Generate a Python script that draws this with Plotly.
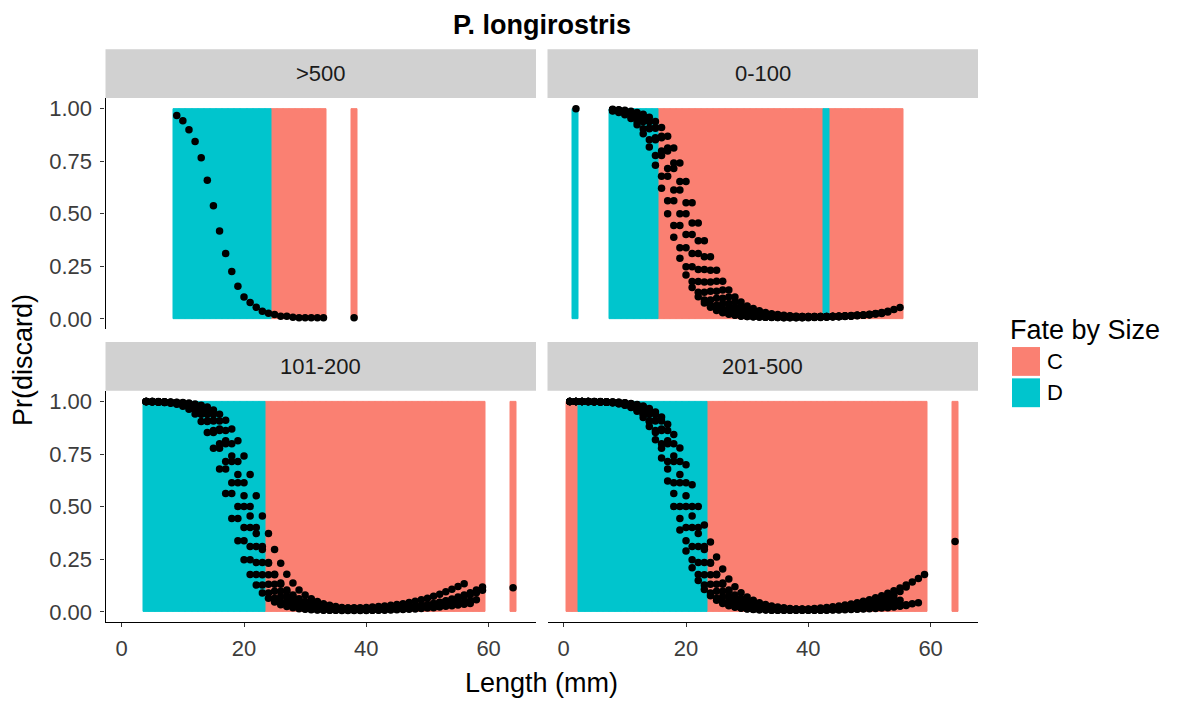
import plotly.graph_objects as go

# ---------------- data ----------------
FATE_COLORS = {"C": "#FA8072", "D": "#00C5CD"}
BAR_HEIGHT = 1

# Fate-by-size bars (length in mm) per panel
P500_C = [25, 26, 27, 28, 29, 30, 31, 32, 33, 38]
P500_D = [9, 10, 11, 12, 13, 14, 15, 16, 17, 18, 19, 20, 21, 22, 23, 24]
P0_100_C = [16, 17, 18, 19, 20, 21, 22, 23, 24, 25, 26, 27, 28, 29, 30, 31, 32, 33, 34, 35,
            36, 37, 38, 39, 40, 41, 42, 44, 45, 46, 47, 48, 49, 50, 51, 52, 53, 54, 55]
P0_100_D = [2, 8, 9, 10, 11, 12, 13, 14, 15, 43]
P101_200_C = [24, 25, 26, 27, 28, 29, 30, 31, 32, 33, 34, 35, 36, 37, 38, 39, 40, 41, 42, 43,
              44, 45, 46, 47, 48, 49, 50, 51, 52, 53, 54, 55, 56, 57, 58, 59, 64]
P101_200_D = [4, 5, 6, 7, 8, 9, 10, 11, 12, 13, 14, 15, 16, 17, 18, 19, 20, 21, 22, 23]
P201_500_C = [1, 2, 24, 25, 26, 27, 28, 29, 30, 31, 32, 33, 34, 35, 36, 37, 38, 39, 40, 41, 42,
              43, 44, 45, 46, 47, 48, 49, 50, 51, 52, 53, 54, 55, 56, 57, 58, 59, 64]
P201_500_D = [3, 4, 5, 6, 7, 8, 9, 10, 11, 12, 13, 14, 15, 16, 17, 18, 19, 20, 21, 22, 23]

# Pr(discard) curves: each list starts at the panel's start length, 1 mm steps
P500_start = 9
P500_curves = [
    [0.967, 0.943, 0.90, 0.844, 0.766, 0.659, 0.538, 0.418, 0.311, 0.226, 0.155, 0.104, 0.078,
     0.055, 0.036, 0.027, 0.021, 0.013, 0.013, 0.008, 0.006, 0.005, 0.005, 0.005, 0.005],
]
P500_extra_len = [38]
P500_extra_pr = [0.005]

P0_100_start = 8
P0_100_curves = [
    [0.989, 0.982, 0.971, 0.953, 0.924, 0.881, 0.818, 0.731, 0.622, 0.5, 0.389, 0.289, 0.209, 0.149,
     0.106, 0.076, 0.055, 0.040, 0.029, 0.022, 0.017, 0.013, 0.011, 0.010, 0.009,
     0.008, 0.008, 0.007, 0.007, 0.007, 0.007, 0.007, 0.008, 0.008, 0.009, 0.010, 0.011, 0.012],
    [0.991, 0.986, 0.977, 0.963, 0.94, 0.905, 0.852, 0.777, 0.679, 0.562, 0.444, 0.338, 0.248, 0.178,
     0.127, 0.090, 0.065, 0.047, 0.034, 0.025, 0.019, 0.015, 0.012, 0.010,
     0.009, 0.008, 0.007, 0.007, 0.006, 0.006, 0.006, 0.006, 0.006, 0.007, 0.007, 0.008, 0.009,
     0.010, 0.011, 0.013, 0.015, 0.017, 0.020],
    [0.995, 0.991, 0.986, 0.977, 0.963, 0.94, 0.905, 0.852, 0.777, 0.679, 0.562, 0.444, 0.338, 0.248,
     0.178, 0.127, 0.090, 0.065, 0.047, 0.034, 0.025, 0.019, 0.015, 0.012, 0.010,
     0.009, 0.008, 0.008, 0.007, 0.007, 0.007, 0.007, 0.008, 0.008, 0.009, 0.010, 0.011, 0.012,
     0.014, 0.016, 0.018],
    [0.993, 0.989, 0.983, 0.974, 0.960, 0.939, 0.907, 0.862, 0.799, 0.715, 0.613, 0.5, 0.401, 0.311,
     0.235, 0.176, 0.131, 0.098, 0.073, 0.055, 0.042, 0.033, 0.026, 0.021, 0.017, 0.014, 0.012, 0.011,
     0.010, 0.009, 0.009, 0.009, 0.009, 0.009, 0.010, 0.010, 0.011, 0.012, 0.013, 0.014, 0.016,
     0.018, 0.020, 0.023, 0.026],
    [0.995, 0.993, 0.989, 0.983, 0.974, 0.960, 0.939, 0.907, 0.862, 0.799, 0.715, 0.613, 0.5, 0.401,
     0.311, 0.235, 0.176, 0.131, 0.098, 0.073, 0.055, 0.042, 0.033, 0.026, 0.021, 0.017, 0.014, 0.012,
     0.011, 0.010, 0.010, 0.010, 0.010, 0.010, 0.011, 0.011, 0.012, 0.013, 0.014, 0.015, 0.017,
     0.019, 0.021, 0.024, 0.028, 0.033],
    [0.995, 0.992, 0.988, 0.982, 0.973, 0.959, 0.939, 0.910, 0.869, 0.813, 0.741, 0.653, 0.552, 0.456,
     0.372, 0.296, 0.231, 0.179, 0.137, 0.104, 0.080, 0.062, 0.049, 0.039, 0.031, 0.025, 0.021, 0.017,
     0.015, 0.013, 0.012, 0.011, 0.011, 0.011, 0.011, 0.012, 0.013, 0.014, 0.015],
    [0.997, 0.995, 0.992, 0.988, 0.982, 0.973, 0.959, 0.939, 0.910, 0.869, 0.813, 0.741, 0.653, 0.552,
     0.456, 0.372, 0.296, 0.231, 0.179, 0.137, 0.104, 0.080, 0.062, 0.049, 0.039, 0.031, 0.025, 0.021,
     0.017, 0.015, 0.013, 0.012, 0.011, 0.011, 0.011, 0.011, 0.012, 0.012, 0.013, 0.015, 0.017,
     0.019, 0.022, 0.026, 0.031, 0.037, 0.045, 0.054],
]
P0_100_extra_len = [2]
P0_100_extra_pr = [1.0]

P101_200_start = 4
P101_200_curves = [
    [0.999, 0.998, 0.997, 0.995, 0.991, 0.986, 0.977, 0.963, 0.94, 0.905, 0.852, 0.777, 0.679, 0.562,
     0.444, 0.338, 0.248, 0.178, 0.127, 0.090, 0.065, 0.047, 0.034, 0.025, 0.019, 0.015, 0.012, 0.010,
     0.009, 0.008, 0.007, 0.007, 0.006, 0.006, 0.006, 0.006, 0.006, 0.007, 0.007, 0.008, 0.009,
     0.010, 0.011, 0.012, 0.014, 0.016, 0.018, 0.020, 0.023, 0.026, 0.029, 0.032, 0.036, 0.040],
    [0.999, 0.999, 0.998, 0.997, 0.995, 0.991, 0.986, 0.977, 0.963, 0.94, 0.905, 0.852, 0.777, 0.679,
     0.562, 0.444, 0.338, 0.248, 0.178, 0.127, 0.090, 0.065, 0.047, 0.034, 0.025, 0.019, 0.015, 0.012,
     0.010, 0.009, 0.008, 0.008, 0.007, 0.007, 0.007, 0.007, 0.008, 0.008, 0.009, 0.010, 0.011,
     0.012, 0.014, 0.016, 0.018, 0.021, 0.024, 0.028, 0.032],
    [0.998, 0.997, 0.996, 0.995, 0.993, 0.989, 0.983, 0.974, 0.960, 0.939, 0.907, 0.862, 0.799, 0.715,
     0.613, 0.5, 0.401, 0.311, 0.235, 0.176, 0.131, 0.098, 0.073, 0.055, 0.042, 0.033, 0.026, 0.021,
     0.017, 0.014, 0.012, 0.011,
     0.010, 0.010, 0.010, 0.010, 0.010, 0.011, 0.012, 0.013, 0.015, 0.017, 0.019, 0.022, 0.025,
     0.029, 0.034, 0.040, 0.046, 0.053, 0.061, 0.070, 0.080, 0.091, 0.104, 0.118],
    [0.999, 0.998, 0.997, 0.996, 0.995, 0.993, 0.989, 0.983, 0.974, 0.960, 0.939, 0.907, 0.862, 0.799,
     0.715, 0.613, 0.5, 0.401, 0.311, 0.235, 0.176, 0.131, 0.098, 0.073, 0.055, 0.042, 0.034, 0.028,
     0.024, 0.021, 0.019, 0.018, 0.018,
     0.018, 0.019, 0.020, 0.021, 0.023, 0.025, 0.028, 0.031, 0.035, 0.039, 0.044, 0.050, 0.057,
     0.065, 0.074, 0.084, 0.095, 0.107, 0.120, 0.134],
    [0.999, 0.999, 0.998, 0.997, 0.995, 0.992, 0.988, 0.982, 0.973, 0.959, 0.939, 0.910, 0.869, 0.813,
     0.741, 0.653, 0.552, 0.456, 0.372, 0.296, 0.231, 0.179, 0.137, 0.104, 0.080, 0.062, 0.049, 0.039,
     0.031, 0.025, 0.021, 0.017, 0.015, 0.013,
     0.012, 0.011, 0.011, 0.011, 0.011, 0.012, 0.013, 0.014, 0.015, 0.017, 0.019, 0.021, 0.024,
     0.027, 0.030, 0.034, 0.038, 0.042, 0.047, 0.052, 0.058],
    [0.999, 0.999, 0.998, 0.997, 0.996, 0.995, 0.993, 0.989, 0.983, 0.974, 0.960, 0.939, 0.907, 0.862,
     0.799, 0.715, 0.613, 0.5, 0.401, 0.311, 0.235, 0.176, 0.131, 0.098, 0.073, 0.055, 0.042, 0.033,
     0.026, 0.021, 0.017, 0.014, 0.012, 0.011,
     0.010, 0.010, 0.010, 0.010, 0.011, 0.012, 0.013, 0.014, 0.016, 0.018, 0.020, 0.023, 0.026,
     0.030, 0.034, 0.039, 0.044],
    [1.0, 0.999, 0.999, 0.998, 0.997, 0.996, 0.995, 0.992, 0.988, 0.982, 0.973, 0.959, 0.939, 0.910,
     0.869, 0.813, 0.741, 0.653, 0.552, 0.456, 0.372, 0.296, 0.231, 0.179, 0.137, 0.104, 0.080, 0.062,
     0.049, 0.039, 0.031, 0.025, 0.021, 0.018, 0.016,
     0.015, 0.014, 0.014, 0.014, 0.015, 0.016, 0.018, 0.020, 0.023, 0.026, 0.030, 0.034, 0.039,
     0.044, 0.050, 0.057, 0.064, 0.072, 0.081, 0.091, 0.102],
]
P101_200_extra_len = [64]
P101_200_extra_pr = [0.115]

P201_500_start = 1
P201_500_curves = [
    [0.9998, 0.9997, 0.9994, 0.9991, 0.9985, 0.9975, 0.9959, 0.9933, 0.989, 0.982, 0.971, 0.953, 0.924,
     0.881, 0.818, 0.731, 0.622,
     0.5, 0.389, 0.289, 0.209, 0.149, 0.106, 0.076, 0.055, 0.040, 0.029, 0.022, 0.017, 0.013, 0.011, 0.010,
     0.009, 0.008, 0.008, 0.007, 0.007, 0.007, 0.007, 0.007, 0.007, 0.008, 0.008, 0.009, 0.009,
     0.010, 0.011, 0.012, 0.013, 0.015, 0.016, 0.018, 0.020, 0.023, 0.026, 0.030],
    [0.9998, 0.9997, 0.9996, 0.9993, 0.9989, 0.998, 0.9968, 0.995, 0.991, 0.986, 0.977, 0.963, 0.94,
     0.905, 0.852, 0.777, 0.679, 0.562,
     0.444, 0.338, 0.248, 0.178, 0.127, 0.090, 0.065, 0.047, 0.034, 0.025, 0.019, 0.015, 0.012, 0.010,
     0.009, 0.008, 0.008, 0.007, 0.007, 0.007, 0.007, 0.007, 0.008, 0.008, 0.009, 0.010, 0.011,
     0.012, 0.013, 0.014, 0.016, 0.018, 0.020, 0.022, 0.025, 0.028, 0.031, 0.034, 0.038, 0.043],
    [0.9995, 0.9993, 0.999, 0.9985, 0.998, 0.997, 0.9955, 0.993, 0.989, 0.983, 0.974, 0.960, 0.939,
     0.907, 0.862, 0.799, 0.715, 0.613,
     0.5, 0.401, 0.311, 0.235, 0.176, 0.131, 0.098, 0.073, 0.055, 0.042, 0.033, 0.026, 0.021, 0.017,
     0.014, 0.012, 0.011,
     0.011, 0.011, 0.012, 0.013, 0.014, 0.016, 0.018, 0.021, 0.024, 0.028, 0.032, 0.037, 0.043,
     0.050, 0.058, 0.067, 0.077, 0.088, 0.100, 0.113, 0.127, 0.142, 0.159, 0.178],
    [0.9996, 0.9995, 0.9993, 0.999, 0.9985, 0.998, 0.997, 0.9955, 0.993, 0.989, 0.983, 0.974, 0.960,
     0.939, 0.907, 0.862, 0.799, 0.715, 0.613,
     0.5, 0.401, 0.311, 0.235, 0.176, 0.131, 0.098, 0.073, 0.055, 0.042, 0.033, 0.026, 0.021, 0.017,
     0.014, 0.012, 0.011,
     0.010, 0.010, 0.011, 0.011, 0.012, 0.013, 0.015, 0.017, 0.020, 0.023, 0.027, 0.031, 0.036,
     0.042, 0.049, 0.057, 0.067, 0.079, 0.097, 0.118],
    [0.9997, 0.9996, 0.9994, 0.9991, 0.9985, 0.9977, 0.9965, 0.9947, 0.992, 0.988, 0.982, 0.973,
     0.959, 0.939, 0.910, 0.869, 0.813, 0.741, 0.653, 0.552,
     0.456, 0.372, 0.296, 0.231, 0.179, 0.137, 0.104, 0.080, 0.062, 0.049, 0.039, 0.031, 0.025,
     0.021, 0.017, 0.015, 0.013,
     0.012, 0.011, 0.011, 0.011, 0.012, 0.012, 0.013, 0.014, 0.016, 0.018, 0.020, 0.023, 0.026,
     0.030, 0.035, 0.041, 0.048, 0.055],
    [0.9997, 0.9996, 0.9995, 0.9993, 0.999, 0.9985, 0.998, 0.997, 0.9955, 0.993, 0.989, 0.983,
     0.974, 0.960, 0.939, 0.907, 0.862, 0.799, 0.715, 0.613,
     0.5, 0.401, 0.311, 0.235, 0.176, 0.131, 0.098, 0.073, 0.055, 0.042, 0.033, 0.026, 0.021,
     0.017, 0.014, 0.012, 0.011,
     0.010, 0.010, 0.010, 0.011, 0.012, 0.013, 0.015, 0.017, 0.019, 0.022, 0.025, 0.029, 0.033,
     0.038, 0.044, 0.051, 0.059],
    [0.9998, 0.9998, 0.9997, 0.9995, 0.9993, 0.999, 0.998, 0.997, 0.9958, 0.9936, 0.9902, 0.9852,
     0.9777, 0.9664, 0.9498, 0.9255, 0.8909, 0.8429, 0.779, 0.6985, 0.6035,
     0.5, 0.413, 0.332, 0.261, 0.203, 0.156, 0.119, 0.091, 0.070, 0.055, 0.043, 0.035, 0.028,
     0.023, 0.019, 0.016, 0.014, 0.012,
     0.011, 0.011, 0.011, 0.011, 0.012, 0.013, 0.014, 0.015, 0.017, 0.019, 0.021, 0.024, 0.027],
]
P201_500_extra_len = [64]
P201_500_extra_pr = [0.334]

X_TICKS = [0, 20, 40, 60]
Y_TICKS = [0, 0.25, 0.5, 0.75, 1.0]
Y_TICK_TEXT = ["0.00", "0.25", "0.50", "0.75", "1.00"]
FACET_LABELS = [">500", "0-100", "101-200", "201-500"]
LEGEND_LABELS = ["C", "D"]

# ---------------- layout geometry (pixels) ----------------
W, H = 1178, 704
PX_L = (105.5, 536.0)
PX_R = (547.5, 978.0)
PY_TOP = (96.7, 329.3)
PY_BOT = (391.1, 623.9)
STRIP_TOP = (47.5, 96.5)
STRIP_BOT = (342, 391.0)
XR = [-2.65, 67.75]
YR = [-0.05, 1.05]

def fx(px):
    return px / W

def fy(py):
    return 1 - py / H

FONT = "Liberation Sans, Arial, sans-serif"
TICK_FONT = dict(family=FONT, size=22, color="#3C3C3C")

panels = [
    (FACET_LABELS[0], "3", PX_L, PY_TOP, STRIP_TOP, P500_C, P500_D, P500_start, P500_curves,
     P500_extra_len, P500_extra_pr),
    (FACET_LABELS[1], "4", PX_R, PY_TOP, STRIP_TOP, P0_100_C, P0_100_D, P0_100_start, P0_100_curves,
     P0_100_extra_len, P0_100_extra_pr),
    (FACET_LABELS[2], "", PX_L, PY_BOT, STRIP_BOT, P101_200_C, P101_200_D, P101_200_start,
     P101_200_curves, P101_200_extra_len, P101_200_extra_pr),
    (FACET_LABELS[3], "2", PX_R, PY_BOT, STRIP_BOT, P201_500_C, P201_500_D, P201_500_start,
     P201_500_curves, P201_500_extra_len, P201_500_extra_pr),
]

fig = go.Figure()
shapes = []
annotations = []
layout_axes = {}

for label, sfx, xd, yd, strip, barsC, barsD, start, curves, exl, expr in panels:
    xa = "x" + sfx
    ya = "y" + sfx
    for fate, lens in (("C", barsC), ("D", barsD)):
        fig.add_trace(go.Bar(
            x=lens, y=[BAR_HEIGHT] * len(lens), width=1,
            marker=dict(color=FATE_COLORS[fate], line=dict(color=FATE_COLORS[fate], width=1)),
            xaxis=xa, yaxis=ya, showlegend=False, hoverinfo="skip"))
    for vals in curves:
        fig.add_trace(go.Scatter(
            x=list(range(start, start + len(vals))), y=vals, mode="markers",
            marker=dict(color="black", size=7.5), xaxis=xa, yaxis=ya, showlegend=False))
    fig.add_trace(go.Scatter(
        x=exl, y=expr, mode="markers", marker=dict(color="black", size=7.5),
        xaxis=xa, yaxis=ya, showlegend=False))

    is_left = xd == PX_L
    is_bottom = yd == PY_BOT
    layout_axes["xaxis" + sfx] = dict(
        domain=[fx(xd[0]), fx(xd[1])], range=XR, anchor=ya, showgrid=False, zeroline=False,
        showline=is_bottom, linecolor="black", linewidth=1.2,
        ticks="outside" if is_bottom else "", ticklen=4, tickcolor="#333333", tickwidth=1.2,
        tickvals=X_TICKS, showticklabels=is_bottom, tickfont=TICK_FONT, ticklabelstandoff=2)
    layout_axes["yaxis" + sfx] = dict(
        domain=[fy(yd[1]), fy(yd[0])], range=YR, anchor=xa, showgrid=False, zeroline=False,
        showline=is_left, linecolor="black", linewidth=1.2,
        ticks="outside" if is_left else "", ticklen=4, tickcolor="#333333", tickwidth=1.2,
        tickvals=Y_TICKS, ticktext=Y_TICK_TEXT, showticklabels=is_left, tickfont=TICK_FONT,
        ticklabelstandoff=4)

    shapes.append(dict(type="rect", xref="paper", yref="paper",
                       x0=fx(xd[0]), x1=fx(xd[1]), y0=fy(strip[1]), y1=fy(strip[0]),
                       fillcolor="#D1D1D1", line=dict(width=0), layer="below"))
    annotations.append(dict(text=label, xref="paper", yref="paper",
                            x=fx((xd[0] + xd[1]) / 2), y=fy((strip[0] + strip[1]) / 2),
                            showarrow=False, xanchor="center", yanchor="middle",
                            font=dict(family=FONT, size=22, color="#1A1A1A")))

# titles
annotations.append(dict(text="<b>P. longirostris</b>", xref="paper", yref="paper",
                        x=fx(541.5), y=fy(23), showarrow=False, xanchor="center", yanchor="middle",
                        font=dict(family=FONT, size=27, color="black")))
annotations.append(dict(text="Length (mm)", xref="paper", yref="paper",
                        x=fx(541.5), y=fy(685), showarrow=False, xanchor="center", yanchor="middle",
                        font=dict(family=FONT, size=27, color="black")))
annotations.append(dict(text="Pr(discard)", xref="paper", yref="paper", textangle=-90,
                        x=fx(23), y=fy(360), showarrow=False, xanchor="center", yanchor="middle",
                        font=dict(family=FONT, size=27, color="black")))

# legend (drawn manually to match ggplot key size)
annotations.append(dict(text="Fate by Size", xref="paper", yref="paper",
                        x=fx(1008), y=fy(330), showarrow=False, xanchor="left", yanchor="middle",
                        font=dict(family=FONT, size=27, color="black")))
for i, lab in enumerate(LEGEND_LABELS):
    top = 347 + i * 31.5
    shapes.append(dict(type="rect", xref="paper", yref="paper",
                       x0=fx(1012), x1=fx(1040), y0=fy(top + 29), y1=fy(top),
                       fillcolor=FATE_COLORS[lab], line=dict(width=0)))
    annotations.append(dict(text=lab, xref="paper", yref="paper",
                            x=fx(1045), y=fy(top + 14.5), showarrow=False, xanchor="left",
                            yanchor="middle", font=dict(family=FONT, size=22, color="black")))

fig.update_layout(
    width=W, height=H, margin=dict(l=0, r=0, t=0, b=0),
    paper_bgcolor="white", plot_bgcolor="white",
    barmode="overlay", bargap=0, showlegend=False,
    shapes=shapes, annotations=annotations, **layout_axes)

fig.write_html("out.html")
